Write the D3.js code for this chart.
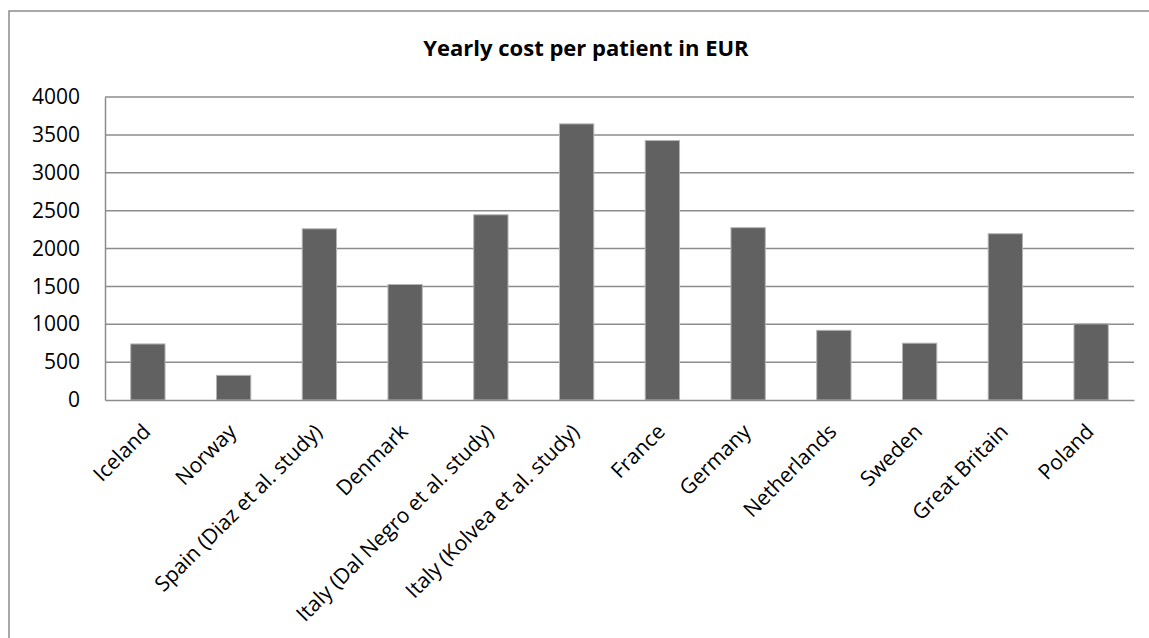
<!DOCTYPE html>
<html>
<head>
<meta charset="utf-8">
<script src="https://cdn.jsdelivr.net/npm/d3@7"></script>
<style>
  html, body { margin: 0; padding: 0; background: #fff; }
  svg { display: block; }
  text { font-family: "Open Sans", "Noto Sans", sans-serif; fill: #000; }
</style>
</head>
<body>
<svg id="chart" width="1149" height="638"></svg>
<script>
// Yearly cost per patient (EUR) by country / study
const categories = [
  "Iceland", "Norway", "Spain (Diaz et al. study)", "Denmark",
  "Italy (Dal Negro et al. study)", "Italy (Kolvea et al. study)",
  "France", "Germany", "Netherlands", "Sweden", "Great Britain", "Poland"
];
const costs = [740, 325, 2260, 1525, 2445, 3645, 3425, 2275, 920, 750, 2195, 1005];
const yTicks = [0, 500, 1000, 1500, 2000, 2500, 3000, 3500, 4000];
const title = "Yearly cost per patient in EUR";

const svg = d3.select("#chart");
const W = 1149, H = 638;
const plot = { left: 105, right: 1134, top: 97, bottom: 400 };

// chart frame (runs off the right and bottom edges)
svg.append("rect")
  .attr("x", 9).attr("y", 11)
  .attr("width", W + 20).attr("height", H + 20)
  .attr("fill", "#fff")
  .attr("stroke", "#8c8c8c").attr("stroke-width", 1.5);

const x = d3.scaleBand()
  .domain(categories)
  .range([plot.left, plot.right])
  .paddingInner(0.6)
  .paddingOuter(0.3);

const y = d3.scaleLinear()
  .domain([0, 4000])
  .range([plot.bottom, plot.top]);

// horizontal gridlines
svg.append("g")
  .selectAll("line")
  .data(yTicks.filter(d => d > 0))
  .join("line")
  .attr("x1", plot.left).attr("x2", plot.right)
  .attr("y1", d => y(d)).attr("y2", d => y(d))
  .attr("stroke", "#8c8c8c").attr("stroke-width", 1.5);

// y axis
const yAxis = svg.append("g")
  .attr("transform", `translate(${plot.left},0)`)
  .call(d3.axisLeft(y).tickValues(yTicks).tickSize(0).tickPadding(25).tickFormat(d3.format("d")));
yAxis.select(".domain").attr("stroke", "#8c8c8c").attr("stroke-width", 1.5);
yAxis.selectAll("text")
  .attr("font-size", 21)
  .attr("font-family", "'Open Sans', sans-serif")
  .attr("fill", "#000");

// bars
svg.append("g")
  .selectAll("rect")
  .data(categories.map((c, i) => ({ c, v: costs[i] })))
  .join("rect")
  .attr("x", d => x(d.c))
  .attr("width", x.bandwidth())
  .attr("y", d => y(d.v))
  .attr("height", d => y(0) - y(d.v))
  .attr("fill", "#616161")
  .attr("stroke", "#b4b4b4")
  .attr("stroke-width", 1);

// x axis
const xAxis = svg.append("g")
  .attr("transform", `translate(0,${plot.bottom})`)
  .call(d3.axisBottom(x).tickSize(0).tickPadding(0));
xAxis.select(".domain").attr("stroke", "#8c8c8c").attr("stroke-width", 1.5);
xAxis.selectAll("text")
  .attr("font-size", 21)
  .attr("font-family", "'Open Sans', sans-serif")
  .attr("fill", "#000")
  .attr("text-anchor", "end")
  .attr("dy", 0)
  .attr("transform", "translate(4,33) rotate(-45)");

// title
svg.append("text")
  .attr("x", 586).attr("y", 56)
  .attr("text-anchor", "middle")
  .attr("font-size", 22)
  .attr("font-weight", "bold")
  .text(title);
</script>
</body>
</html>
